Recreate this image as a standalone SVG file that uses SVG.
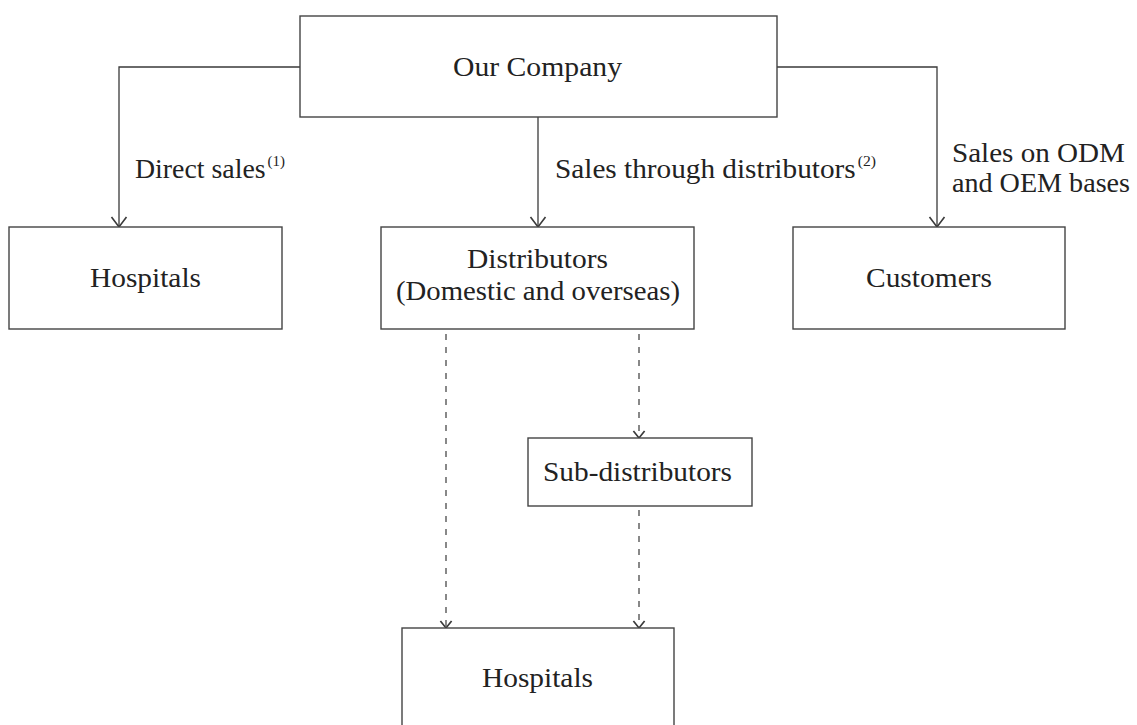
<svg xmlns="http://www.w3.org/2000/svg" width="1137" height="725" viewBox="0 0 1137 725">
  <style>
    .box { fill: #ffffff; stroke: #444444; stroke-width: 1.4; }
    .line { fill: none; stroke: #3a3a3a; stroke-width: 1.3; }
    .dash { fill: none; stroke: #3a3a3a; stroke-width: 1.2; stroke-dasharray: 6 7; }
    text { font-family: "Liberation Serif", "Times New Roman", serif; font-size: 28px; fill: #222222; }
    .sup { font-size: 15px; }
  </style>
  <defs>
    <marker id="arr" markerUnits="userSpaceOnUse" markerWidth="20" markerHeight="20" refX="0" refY="0" viewBox="-10 -8 12 16" orient="auto">
      <path d="M-8,-6 L0,0 L-8,6" fill="none" stroke="#3a3a3a" stroke-width="1.3"/>
    </marker>
    <marker id="arrs" markerUnits="userSpaceOnUse" markerWidth="14" markerHeight="14" refX="0" refY="0" viewBox="-7 -5 8 10" orient="auto">
      <path d="M-5,-4 L0,0 L-5,4" fill="none" stroke="#3a3a3a" stroke-width="1.2"/>
    </marker>
  </defs>

  <g id="connectors">
    <polyline class="line" points="300,67 119,67 119,227" marker-end="url(#arr)"/>
    <line class="line" x1="538" y1="117" x2="538" y2="227" marker-end="url(#arr)"/>
    <polyline class="line" points="777,67 937,67 937,227" marker-end="url(#arr)"/>
    <line class="dash" x1="446" y1="334" x2="446" y2="628" marker-end="url(#arrs)"/>
    <line class="dash" x1="639" y1="334" x2="639" y2="438" marker-end="url(#arrs)"/>
    <line class="dash" x1="639" y1="510" x2="639" y2="628" marker-end="url(#arrs)"/>
    <text x="135" y="178" textLength="150" lengthAdjust="spacingAndGlyphs">Direct sales<tspan class="sup" dx="2" dy="-12">(1)</tspan></text>
    <text x="555" y="178" textLength="321" lengthAdjust="spacingAndGlyphs">Sales through distributors<tspan class="sup" dx="2" dy="-12">(2)</tspan></text>
    <text x="952" y="162" textLength="173" lengthAdjust="spacingAndGlyphs">Sales on ODM</text>
    <text x="952" y="192" textLength="178" lengthAdjust="spacingAndGlyphs">and OEM bases</text>
  </g>

  <g id="our-company">
    <rect class="box" x="300" y="16" width="477" height="101"/>
    <text x="453" y="76" textLength="169" lengthAdjust="spacingAndGlyphs">Our Company</text>
  </g>

  <g id="hospitals-direct">
    <rect class="box" x="9" y="227" width="273" height="102"/>
    <text x="90" y="287" textLength="111" lengthAdjust="spacingAndGlyphs">Hospitals</text>
  </g>

  <g id="distributors">
    <rect class="box" x="381" y="227" width="313" height="102"/>
    <text x="467" y="268" textLength="141" lengthAdjust="spacingAndGlyphs">Distributors</text>
    <text x="396" y="300" textLength="284" lengthAdjust="spacingAndGlyphs">(Domestic and overseas)</text>
  </g>

  <g id="customers">
    <rect class="box" x="793" y="227" width="272" height="102"/>
    <text x="866" y="287" textLength="126" lengthAdjust="spacingAndGlyphs">Customers</text>
  </g>

  <g id="sub-distributors">
    <rect class="box" x="528" y="438" width="224" height="68"/>
    <text x="543" y="481" textLength="189" lengthAdjust="spacingAndGlyphs">Sub-distributors</text>
  </g>

  <g id="hospitals-bottom">
    <rect class="box" x="402" y="628" width="272" height="110"/>
    <text x="482" y="687" textLength="111" lengthAdjust="spacingAndGlyphs">Hospitals</text>
  </g>
</svg>
